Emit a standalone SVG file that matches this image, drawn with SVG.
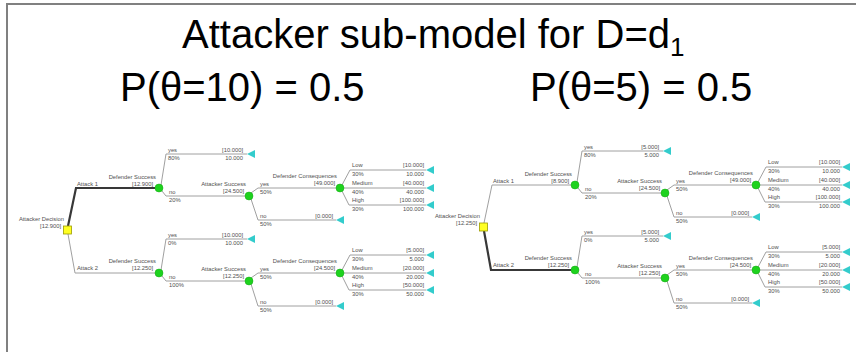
<svg xmlns="http://www.w3.org/2000/svg" xmlns:xlink="http://www.w3.org/1999/xlink" width="856" height="352" viewBox="0 0 856 352">
<style>
.bg{fill:#fff}
.frame{fill:none;stroke:#808080;stroke-width:2}
.big{font-family:"Liberation Sans",Arial,sans-serif;font-size:40px;fill:#000}
.b{fill:none;stroke:#a0a0a0;stroke-width:1}
.opt{fill:none;stroke:#383838;stroke-width:2.2}
.t{font-family:"Liberation Sans",Arial,sans-serif;font-size:5.8px;fill:#505050}
.r{text-anchor:end}
.chance{fill:#1ed21e;stroke:#12a812;stroke-width:0.5}
.dec{fill:#ffff22;stroke:#9c9c00;stroke-width:0.8}
.term{fill:#33cccc}
</style>
<defs>
<path id="tri" d="M0,0 L8,-4 L8,4 Z"/>
</defs>
<rect class="bg" x="0" y="0" width="856" height="352"/>
<path class="frame" d="M7,352 V4 H856"/>
<text class="big" x="182" y="48">Attacker sub-model for D=d<tspan font-size="26" dy="8">1</tspan></text>
<text class="big" x="120" y="101">P(θ=10) = 0.5</text>
<text class="big" x="530" y="101">P(θ=5) = 0.5</text>

<g id="connectors">
<g id="connectors-left">
<path class="opt" d="M68,226 L76,188 H155"/>
<path class="b" d="M68,234 L75,273 H155"/>
<path class="b" d="M161,185 L166,154 H247"/>
<path class="b" d="M162,191 L166,196 H245"/>
<path class="b" d="M251,193 L258,188 H336"/>
<path class="b" d="M251,199 L258,220 H336"/>
<path class="b" d="M342,185 L350,170 H426"/>
<path class="b" d="M344,188 H426"/>
<path class="b" d="M342,191 L349,205 H426"/>
<path class="b" d="M161,270 L166,239 H247"/>
<path class="b" d="M162,276 L166,281 H245"/>
<path class="b" d="M251,278 L258,273 H336"/>
<path class="b" d="M251,284 L258,306 H336"/>
<path class="b" d="M342,270 L350,255 H426"/>
<path class="b" d="M344,273 H426"/>
<path class="b" d="M342,276 L349,290 H426"/>
<text class="t" x="77" y="186">Attack 1</text>
<text class="t" x="77" y="270">Attack 2</text>
<text class="t" x="168" y="152">yes</text><text class="t" x="168" y="160">80%</text>
<text class="t" x="169" y="194">no</text><text class="t" x="169" y="202">20%</text>
<text class="t" x="260" y="186">yes</text><text class="t" x="260" y="194">50%</text>
<text class="t" x="260" y="218">no</text><text class="t" x="260" y="226">50%</text>
<text class="t" x="352" y="167">Low</text><text class="t" x="352" y="176">30%</text>
<text class="t" x="352" y="185">Medium</text><text class="t" x="352" y="194">40%</text>
<text class="t" x="352" y="202">High</text><text class="t" x="352" y="211">30%</text>
<text class="t" x="168" y="237">yes</text><text class="t" x="168" y="245">0%</text>
<text class="t" x="169" y="279">no</text><text class="t" x="169" y="287">100%</text>
<text class="t" x="260" y="271">yes</text><text class="t" x="260" y="279">50%</text>
<text class="t" x="260" y="304">no</text><text class="t" x="260" y="312">50%</text>
<text class="t" x="352" y="252">Low</text><text class="t" x="352" y="261">30%</text>
<text class="t" x="352" y="270">Medium</text><text class="t" x="352" y="279">40%</text>
<text class="t" x="352" y="287">High</text><text class="t" x="352" y="296">30%</text>
</g>
<g id="connectors-right" transform="translate(416,-3)">
<path class="b" d="M68,226 L76,188 H155"/>
<path class="opt" d="M68,234 L75,273 H155"/>
<path class="b" d="M161,185 L166,154 H247"/>
<path class="b" d="M162,191 L166,196 H245"/>
<path class="b" d="M251,193 L258,188 H336"/>
<path class="b" d="M251,199 L258,220 H336"/>
<path class="b" d="M342,185 L350,170 H426"/>
<path class="b" d="M344,188 H426"/>
<path class="b" d="M342,191 L349,205 H426"/>
<path class="b" d="M161,270 L166,239 H247"/>
<path class="b" d="M162,276 L166,281 H245"/>
<path class="b" d="M251,278 L258,273 H336"/>
<path class="b" d="M251,284 L258,306 H336"/>
<path class="b" d="M342,270 L350,255 H426"/>
<path class="b" d="M344,273 H426"/>
<path class="b" d="M342,276 L349,290 H426"/>
<text class="t" x="77" y="186">Attack 1</text>
<text class="t" x="77" y="270">Attack 2</text>
<text class="t" x="168" y="152">yes</text><text class="t" x="168" y="160">80%</text>
<text class="t" x="169" y="194">no</text><text class="t" x="169" y="202">20%</text>
<text class="t" x="260" y="186">yes</text><text class="t" x="260" y="194">50%</text>
<text class="t" x="260" y="218">no</text><text class="t" x="260" y="226">50%</text>
<text class="t" x="352" y="167">Low</text><text class="t" x="352" y="176">30%</text>
<text class="t" x="352" y="185">Medium</text><text class="t" x="352" y="194">40%</text>
<text class="t" x="352" y="202">High</text><text class="t" x="352" y="211">30%</text>
<text class="t" x="168" y="237">yes</text><text class="t" x="168" y="245">0%</text>
<text class="t" x="169" y="279">no</text><text class="t" x="169" y="287">100%</text>
<text class="t" x="260" y="271">yes</text><text class="t" x="260" y="279">50%</text>
<text class="t" x="260" y="304">no</text><text class="t" x="260" y="312">50%</text>
<text class="t" x="352" y="252">Low</text><text class="t" x="352" y="261">30%</text>
<text class="t" x="352" y="270">Medium</text><text class="t" x="352" y="279">40%</text>
<text class="t" x="352" y="287">High</text><text class="t" x="352" y="296">30%</text>
</g>
</g>

<g id="nodes-left">
<g id="L-attacker-decision"><rect class="dec" x="63.5" y="226" width="8" height="8"/><text class="t r" x="64" y="221">Attacker Decision</text><text class="t r" x="61" y="228">[12.900]</text></g>
<g id="L-defender-success-1"><circle class="chance" cx="159" cy="188" r="4"/><text class="t r" x="156" y="179">Defender Success</text><text class="t r" x="153" y="186">[12.900]</text></g>
<g id="L-t-yes-1"><use xlink:href="#tri" class="term" x="247" y="154"/><text class="t r" x="243" y="152">[10.000]</text><text class="t r" x="243" y="160">10.000</text></g>
<g id="L-attacker-success-1"><circle class="chance" cx="249" cy="196" r="4"/><text class="t r" x="246" y="186">Attacker Success</text><text class="t r" x="244" y="193">[24.500]</text></g>
<g id="L-t-no-1"><use xlink:href="#tri" class="term" x="336" y="220"/><text class="t r" x="333" y="218">[0.000]</text></g>
<g id="L-defender-consequences-1"><circle class="chance" cx="340" cy="188" r="4"/><text class="t r" x="337" y="178">Defender Consequences</text><text class="t r" x="335" y="185">[49.000]</text></g>
<g id="L-t-low-1"><use xlink:href="#tri" class="term" x="426" y="170"/><text class="t r" x="424" y="167">[10.000]</text><text class="t r" x="424" y="176">10.000</text></g>
<g id="L-t-medium-1"><use xlink:href="#tri" class="term" x="426" y="188"/><text class="t r" x="424" y="185">[40.000]</text><text class="t r" x="424" y="194">40.000</text></g>
<g id="L-t-high-1"><use xlink:href="#tri" class="term" x="426" y="205"/><text class="t r" x="424" y="202">[100.000]</text><text class="t r" x="424" y="211">100.000</text></g>
<g id="L-defender-success-2"><circle class="chance" cx="159" cy="273" r="4"/><text class="t r" x="156" y="263">Defender Success</text><text class="t r" x="153" y="270">[12.250]</text></g>
<g id="L-t-yes-2"><use xlink:href="#tri" class="term" x="247" y="239"/><text class="t r" x="243" y="237">[10.000]</text><text class="t r" x="243" y="245">10.000</text></g>
<g id="L-attacker-success-2"><circle class="chance" cx="249" cy="281" r="4"/><text class="t r" x="246" y="271">Attacker Success</text><text class="t r" x="244" y="278">[12.250]</text></g>
<g id="L-t-no-2"><use xlink:href="#tri" class="term" x="336" y="306"/><text class="t r" x="333" y="304">[0.000]</text></g>
<g id="L-defender-consequences-2"><circle class="chance" cx="340" cy="273" r="4"/><text class="t r" x="337" y="263">Defender Consequences</text><text class="t r" x="335" y="270">[24.500]</text></g>
<g id="L-t-low-2"><use xlink:href="#tri" class="term" x="426" y="255"/><text class="t r" x="424" y="252">[5.000]</text><text class="t r" x="424" y="261">5.000</text></g>
<g id="L-t-medium-2"><use xlink:href="#tri" class="term" x="426" y="273"/><text class="t r" x="424" y="270">[20.000]</text><text class="t r" x="424" y="279">20.000</text></g>
<g id="L-t-high-2"><use xlink:href="#tri" class="term" x="426" y="290"/><text class="t r" x="424" y="287">[50.000]</text><text class="t r" x="424" y="296">50.000</text></g>
</g>

<g id="nodes-right" transform="translate(416,-3)">
<g id="R-attacker-decision"><rect class="dec" x="63.5" y="226" width="8" height="8"/><text class="t r" x="64" y="221">Attacker Decision</text><text class="t r" x="61" y="228">[12.250]</text></g>
<g id="R-defender-success-1"><circle class="chance" cx="159" cy="188" r="4"/><text class="t r" x="156" y="179">Defender Success</text><text class="t r" x="153" y="186">[8.900]</text></g>
<g id="R-t-yes-1"><use xlink:href="#tri" class="term" x="247" y="154"/><text class="t r" x="243" y="152">[5.000]</text><text class="t r" x="243" y="160">5.000</text></g>
<g id="R-attacker-success-1"><circle class="chance" cx="249" cy="196" r="4"/><text class="t r" x="246" y="186">Attacker Success</text><text class="t r" x="244" y="193">[24.500]</text></g>
<g id="R-t-no-1"><use xlink:href="#tri" class="term" x="336" y="220"/><text class="t r" x="333" y="218">[0.000]</text></g>
<g id="R-defender-consequences-1"><circle class="chance" cx="340" cy="188" r="4"/><text class="t r" x="337" y="178">Defender Consequences</text><text class="t r" x="335" y="185">[49.000]</text></g>
<g id="R-t-low-1"><use xlink:href="#tri" class="term" x="426" y="170"/><text class="t r" x="424" y="167">[10.000]</text><text class="t r" x="424" y="176">10.000</text></g>
<g id="R-t-medium-1"><use xlink:href="#tri" class="term" x="426" y="188"/><text class="t r" x="424" y="185">[40.000]</text><text class="t r" x="424" y="194">40.000</text></g>
<g id="R-t-high-1"><use xlink:href="#tri" class="term" x="426" y="205"/><text class="t r" x="424" y="202">[100.000]</text><text class="t r" x="424" y="211">100.000</text></g>
<g id="R-defender-success-2"><circle class="chance" cx="159" cy="273" r="4"/><text class="t r" x="156" y="263">Defender Success</text><text class="t r" x="153" y="270">[12.250]</text></g>
<g id="R-t-yes-2"><use xlink:href="#tri" class="term" x="247" y="239"/><text class="t r" x="243" y="237">[5.000]</text><text class="t r" x="243" y="245">5.000</text></g>
<g id="R-attacker-success-2"><circle class="chance" cx="249" cy="281" r="4"/><text class="t r" x="246" y="271">Attacker Success</text><text class="t r" x="244" y="278">[12.250]</text></g>
<g id="R-t-no-2"><use xlink:href="#tri" class="term" x="336" y="306"/><text class="t r" x="333" y="304">[0.000]</text></g>
<g id="R-defender-consequences-2"><circle class="chance" cx="340" cy="273" r="4"/><text class="t r" x="337" y="263">Defender Consequences</text><text class="t r" x="335" y="270">[24.500]</text></g>
<g id="R-t-low-2"><use xlink:href="#tri" class="term" x="426" y="255"/><text class="t r" x="424" y="252">[5.000]</text><text class="t r" x="424" y="261">5.000</text></g>
<g id="R-t-medium-2"><use xlink:href="#tri" class="term" x="426" y="273"/><text class="t r" x="424" y="270">[20.000]</text><text class="t r" x="424" y="279">20.000</text></g>
<g id="R-t-high-2"><use xlink:href="#tri" class="term" x="426" y="290"/><text class="t r" x="424" y="287">[50.000]</text><text class="t r" x="424" y="296">50.000</text></g>
</g>
</svg>
